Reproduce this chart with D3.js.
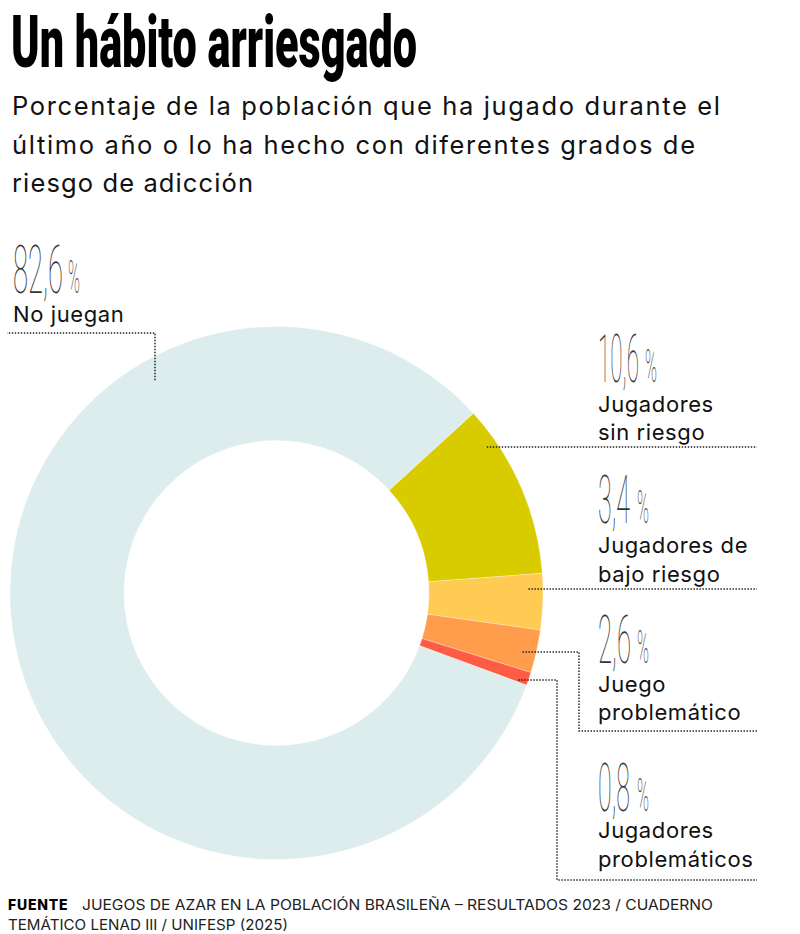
<!DOCTYPE html>
<html>
<head>
<meta charset="utf-8">
<script src="https://cdn.jsdelivr.net/npm/d3@7"></script>
<style>
  body { margin: 0; background: #fff; }
  svg { display: block; }
</style>
</head>
<body>
<div id="chart"></div>
<script>
// datos
var categories = ["Jugadores sin riesgo", "Jugadores de bajo riesgo", "Juego problemático", "Jugadores problemáticos", "No juegan"];
var values = [10.6, 3.4, 2.6, 0.8, 82.6];
var valueLabels = ["10,6", "3,4", "2,6", "0,8", "82,6"];
var labelLines = [["Jugadores", "sin riesgo"], ["Jugadores de", "bajo riesgo"], ["Juego", "problemático"], ["Jugadores", "problemáticos"], ["No juegan"]];
var subtitleLines = ["Porcentaje de la población que ha jugado durante el", "último año o lo ha hecho con diferentes grados de", "riesgo de adicción"];

var width = 800, height = 934;
var cx = 276.5, cy = 593, outerR = 266.5, innerR = 152.5;

var svg = d3.select("#chart").append("svg")
  .attr("width", width)
  .attr("height", height);

// escala horizontal de un texto para que mida w
function squeeze(sel, x, y, w) {
  sel.each(function() {
    var len = this.getComputedTextLength();
    d3.select(this).attr("transform", "translate(" + x + "," + y + ") scale(" + (w / len) + ",1)");
  });
}

// titulo
svg.append("text")
  .attr("x", 11)
  .attr("y", 66.5)
  .attr("textLength", 406)
  .attr("lengthAdjust", "spacingAndGlyphs")
  .style("font-family", "Roboto, 'Liberation Sans', sans-serif")
  .style("font-weight", 900)
  .style("font-size", "72px")
  .style("fill", "#000")
  .text("Un hábito arriesgado");

var subW = [708, 683, 241];
svg.append("g").selectAll("text")
  .data(subtitleLines)
  .join("text")
  .attr("x", 12)
  .attr("y", function(d, i) { return 115 + i * 38.5; })
  .attr("textLength", function(d, i) { return subW[i]; })
  .attr("lengthAdjust", "spacing")
  .style("font-family", "Inter, 'Liberation Sans', sans-serif")
  .style("font-size", "25.5px")
  .style("fill", "#111")
  .text(function(d) { return d; });

// donut
var color = d3.scaleOrdinal()
  .domain(categories)
  .range(["#d8cc00", "#ffcb52", "#ff9d4c", "#ff5c45", "#ddeded"]);

var startAngle = 47.6 * Math.PI / 180;
var pie = d3.pie()
  .sort(null)
  .value(function(d) { return d.value; })
  .startAngle(startAngle)
  .endAngle(startAngle + 2 * Math.PI);

var arc = d3.arc().innerRadius(innerR).outerRadius(outerR);

var slices = categories.map(function(c, i) { return {name: c, value: values[i]}; });

svg.append("g")
  .attr("transform", "translate(" + cx + "," + cy + ")")
  .selectAll("path")
  .data(pie(slices))
  .join("path")
  .attr("d", arc)
  .style("fill", function(d) { return color(d.data.name); })
  .style("stroke", "#fff")
  .style("stroke-opacity", 0.5)
  .style("stroke-width", 0.6);

// etiquetas: posicion de cada bloque
var layout = [
  {x: 598, num: 382, numW: 41, pctX: 645, lines: [412, 440], lead: {y: 447, r: 256}},
  {x: 598, num: 523, numW: 32, pctX: 637, lines: [553, 582], lead: {y: 589, r: 252}},
  {x: 598, num: 663, numW: 33, pctX: 637, lines: [692, 720], lead: {y: 652, r: 253, elbow: 579, down: 731}},
  {x: 598, num: 811, numW: 32, pctX: 637, lines: [838, 867], lead: {y: 680, r: 257, elbow: 557, down: 880}},
  {x: 13, num: 293, numW: 50, pctX: 68, lines: [322], lead: {x: 155, r: 245, up: 333}}
];

var lineEnd = 757;

function leaderPath(l) {
  var p = d3.path();
  if (l.x !== undefined) {
    var dy = -Math.sqrt(l.r * l.r - (l.x - cx) * (l.x - cx));
    p.moveTo(l.x, cy + dy);
    p.lineTo(l.x, l.up);
    p.lineTo(7, l.up);
    return p.toString();
  }
  var x0 = cx + Math.sqrt(l.r * l.r - (l.y - cy) * (l.y - cy));
  p.moveTo(x0, l.y);
  if (l.elbow !== undefined) {
    p.lineTo(l.elbow, l.y);
    p.lineTo(l.elbow, l.down);
    p.lineTo(lineEnd, l.down);
  } else {
    p.lineTo(lineEnd, l.y);
  }
  return p.toString();
}

var labels = svg.append("g").selectAll("g")
  .data(categories)
  .join("g");

labels.append("path")
  .attr("d", function(d, i) { return leaderPath(layout[i].lead); })
  .style("fill", "none")
  .style("stroke", "#1a1a1a")
  .style("stroke-width", 1.4)
  .style("stroke-dasharray", "1.4 1.6");

// cifras finas (opacity para que no salgan bordes de color)
var nums = labels.append("g").style("opacity", 0.99);

nums.append("text")
  .attr("class", "num")
  .style("font-family", "Roboto, sans-serif")
  .style("font-weight", 100)
  .style("font-size", "66px")
  .style("fill", "#333")
  .text(function(d, i) { return valueLabels[i]; })
  .each(function(d, i) { squeeze(d3.select(this), layout[i].x, layout[i].num, layout[i].numW); });

nums.append("text")
  .attr("class", "pct")
  .style("font-family", "Roboto, sans-serif")
  .style("font-weight", 100)
  .style("font-size", "47px")
  .style("fill", "#333")
  .text("%")
  .each(function(d, i) { squeeze(d3.select(this), layout[i].pctX, layout[i].num, 12); });

labels.each(function(d, i) {
  d3.select(this).selectAll("text.cat")
    .data(labelLines[i])
    .join("text")
    .attr("class", "cat")
    .attr("x", layout[i].x)
    .attr("y", function(t, j) { return layout[i].lines[j]; })
    .style("font-family", "Inter, 'Liberation Sans', sans-serif")
    .style("font-size", "22px")
    .style("letter-spacing", "0.6px")
    .style("fill", "#111")
    .text(function(t) { return t; });
});

// fuente
var foot = svg.append("text")
  .attr("x", 8)
  .attr("y", 910)
  .style("font-family", "Inter, 'Liberation Sans', sans-serif")
  .style("font-size", "14px")
  .style("fill", "#222");
foot.append("tspan")
  .style("font-weight", 800)
  .style("fill", "#000")
  .style("letter-spacing", "0.8px")
  .text("FUENTE");
foot.append("tspan")
  .attr("x", 82)
  .attr("textLength", 631)
  .attr("lengthAdjust", "spacingAndGlyphs")
  .text("JUEGOS DE AZAR EN LA POBLACIÓN BRASILEÑA – RESULTADOS 2023 / CUADERNO");

svg.append("text")
  .attr("x", 8)
  .attr("y", 930)
  .attr("textLength", 280)
  .attr("lengthAdjust", "spacingAndGlyphs")
  .style("font-family", "Inter, 'Liberation Sans', sans-serif")
  .style("font-size", "14px")
  .style("fill", "#222")
  .text("TEMÁTICO LENAD III / UNIFESP (2025)");
</script>
</body>
</html>
